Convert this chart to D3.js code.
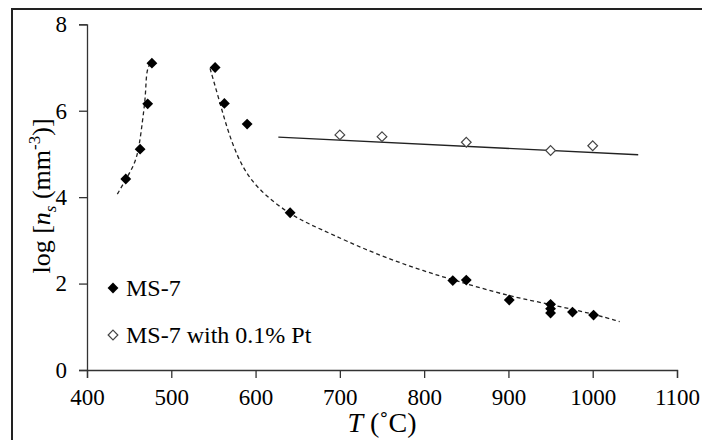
<!DOCTYPE html>
<html>
<head>
<meta charset="utf-8">
<script src="https://cdn.jsdelivr.net/npm/d3@7"></script>
<style>
  body { margin: 0; background: #fff; }
  svg text { font-family: "Liberation Serif", "DejaVu Serif", serif; fill: #000; }
</style>
</head>
<body>
<svg id="chart" width="702" height="440"></svg>
<script>
// MS-7 measurements (T in C, log ns)
var ms7T = [446, 463, 472, 477, 552, 563, 590, 641, 834, 850, 901, 950, 950, 950, 976, 1001];
var ms7Y = [4.42, 5.11, 6.16, 7.10, 7.00, 6.17, 5.69, 3.64, 2.07, 2.08, 1.62, 1.52, 1.42, 1.32, 1.34, 1.27];

// MS-7 with 0.1% Pt
var ptT = [700, 750, 850, 950, 1000];
var ptY = [5.44, 5.40, 5.27, 5.08, 5.19];

// dashed trend lines
var fitLowT = [436, 447, 457, 462, 466, 469, 470, 471, 475];
var fitLowY = [4.07, 4.44, 4.78, 5.17, 5.79, 6.25, 6.64, 6.94, 7.10];
var fitHighT = [546, 556, 566, 578, 592, 612, 639, 665, 692, 726, 783, 835, 902, 945, 1000, 1032];
var fitHighY = [6.98, 6.30, 5.60, 4.95, 4.45, 4.03, 3.63, 3.36, 3.13, 2.82, 2.39, 2.08, 1.70, 1.54, 1.30, 1.12];

// solid Pt trend line
var fitPtT = [627, 1054];
var fitPtY = [5.39, 4.98];

var xTicks = [400, 500, 600, 700, 800, 900, 1000, 1100];
var yTicks = [0, 2, 4, 6, 8];

var svg = d3.select('#chart');

// outer frame
svg.append('rect')
    .attr('x', 12).attr('y', 9)
    .attr('width', 720).attr('height', 460)
    .attr('fill', 'none').attr('stroke', '#222').attr('stroke-width', 2);

var x = d3.scaleLinear().domain([400, 1100]).range([87, 677]);
var y = d3.scaleLinear().domain([0, 8]).range([370, 24.3]);

var xAxis = svg.append('g')
    .attr('transform', 'translate(0,' + y(0) + ')')
    .call(d3.axisBottom(x).tickValues(xTicks).tickFormat(d3.format('d')).tickSize(8));
var yAxis = svg.append('g')
    .attr('transform', 'translate(' + x(400) + ',0)')
    .call(d3.axisLeft(y).tickValues(yTicks).tickFormat(d3.format('d')).tickSize(8).tickPadding(12));

[xAxis, yAxis].forEach(function (ax) {
    ax.select('.domain').attr('stroke', '#333').attr('stroke-width', 1.3);
    ax.selectAll('.tick line').attr('stroke', '#333').attr('stroke-width', 1.3);
    ax.selectAll('.tick text')
        .style('font-family', '"Liberation Serif", serif')
        .style('font-size', '23px')
        .attr('fill', '#000');
});
xAxis.selectAll('.tick text').attr('y', 35).attr('dy', 0);

function zip(a, b) {
    return a.map(function (v, i) { return [v, b[i]]; });
}

var lineSmooth = d3.line()
    .x(function (d) { return x(d[0]); })
    .y(function (d) { return y(d[1]); })
    .curve(d3.curveBasis);

svg.append('path')
    .datum(zip(fitLowT, fitLowY))
    .attr('d', lineSmooth)
    .attr('fill', 'none').attr('stroke', '#222')
    .attr('stroke-width', 1.3).attr('stroke-dasharray', '4,3');

svg.append('path')
    .datum(zip(fitHighT, fitHighY))
    .attr('d', lineSmooth)
    .attr('fill', 'none').attr('stroke', '#222')
    .attr('stroke-width', 1.3).attr('stroke-dasharray', '4,3');

svg.append('path')
    .datum(zip(fitPtT, fitPtY))
    .attr('d', d3.line().x(function (d) { return x(d[0]); }).y(function (d) { return y(d[1]); }))
    .attr('fill', 'none').attr('stroke', '#222').attr('stroke-width', 1.4);

var diamond = d3.symbol().type(d3.symbolDiamond2).size(75);
var openDiamond = d3.symbol().type(d3.symbolDiamond2).size(60);

svg.selectAll('.ms7')
    .data(zip(ms7T, ms7Y))
    .enter().append('path')
    .attr('class', 'ms7')
    .attr('d', diamond)
    .attr('transform', function (d) { return 'translate(' + x(d[0]) + ',' + y(d[1]) + ')'; })
    .attr('fill', '#000');

svg.selectAll('.pt')
    .data(zip(ptT, ptY))
    .enter().append('path')
    .attr('class', 'pt')
    .attr('d', openDiamond)
    .attr('transform', function (d) { return 'translate(' + x(d[0]) + ',' + y(d[1]) + ')'; })
    .attr('fill', '#fff').attr('stroke', '#444').attr('stroke-width', 1.2);

// legend
var legend = svg.append('g');
legend.append('path')
    .attr('d', diamond)
    .attr('transform', 'translate(113,288)')
    .attr('fill', '#000');
legend.append('text')
    .attr('x', 126).attr('y', 296)
    .style('font-size', '24px')
    .text('MS-7');
legend.append('path')
    .attr('d', openDiamond)
    .attr('transform', 'translate(113,335)')
    .attr('fill', '#fff').attr('stroke', '#444').attr('stroke-width', 1.2);
legend.append('text')
    .attr('x', 126).attr('y', 343)
    .style('font-size', '24px')
    .text('MS-7 with 0.1% Pt');

// axis titles
var xt = svg.append('text')
    .attr('x', 382).attr('y', 432)
    .attr('text-anchor', 'middle')
    .style('font-size', '28px');
xt.append('tspan').style('font-style', 'italic').text('T');
xt.append('tspan').text(' (\u02DAC)');

var yt = svg.append('text')
    .attr('transform', 'translate(50,196) rotate(-90)')
    .attr('text-anchor', 'middle')
    .style('font-size', '26px');
yt.append('tspan').text('log [');
yt.append('tspan').style('font-style', 'italic').text('n');
yt.append('tspan').attr('dy', 6).style('font-size', '17px').style('font-style', 'italic').text('s');
yt.append('tspan').attr('dy', -6).text('\u00A0(mm');
yt.append('tspan').attr('dy', -10).style('font-size', '17px').text('-3');
yt.append('tspan').attr('dy', 10).text(')]');
</script>
</body>
</html>
